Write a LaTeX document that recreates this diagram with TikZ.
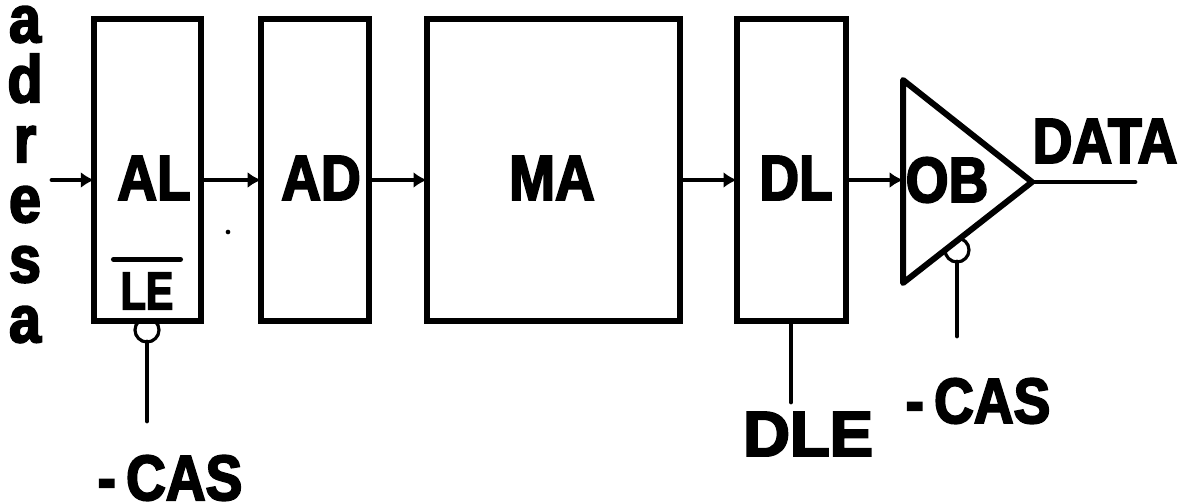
\documentclass[tikz,border=0pt]{standalone}
\usepackage{fontspec}
\usepackage{tikz}
\usetikzlibrary{arrows.meta,calc,positioning}
\newfontfamily\capfont[BoldFeatures={FakeBold=3,FakeStretch=0.86}]{Liberation Sans}
\tikzset{
  box/.style={draw,fill=white,line width=4.5pt,outer sep=0pt,inner sep=0pt,minimum height=226pt},
  lab/.style={inner sep=0pt,font=\capfont\bfseries\fontsize{48}{48}\selectfont},
  bubble/.style={circle,draw,fill=white,line width=2.4pt,inner sep=0pt,outer sep=0pt,minimum size=18pt},
  wire/.style={line width=3.6pt,line cap=round},
  arrow/.style={wire,-{Latex[length=10pt,width=12pt]}},
}
\begin{document}
\begin{tikzpicture}[x=0.75pt,y=-0.75pt]
  \useasboundingbox (0,0) rectangle (1181,503);
  % bubbles first, the blocks cover their inner half
  \node[bubble] (LEb) at (147,330) {};
  \node[bubble] (OBb) at (957,250) {};
  % blocks
  \node[box,minimum width=80pt] (AL) at (147.5,170) {};
  \node[box,minimum width=81pt] (AD) at (315,170) {};
  \node[box,minimum width=190pt] (MA) at (553.5,170) {};
  \node[box,minimum width=82pt] (DL) at (791.5,170) {};
  \coordinate (OBt) at (903,80);
  \coordinate (OBa) at (1032,182);
  \coordinate (OBd) at (903,283);
  \draw[fill=white,line width=4.5pt,line join=round] (OBt)--(OBa)--(OBd)--cycle;
  % texts
  \node[lab] (ALt) at (154,178) {AL};
  \node[lab] (ADt) at (321,178) {AD};
  \node[lab] (MAt) at (552,178) {MA};
  \node[lab] (DLt) at (796,178) {DL};
  \node[lab] (OBl) at (947,180) {OB};
  \node[lab] (DATAt) at (1105,141) {DATA};
  \node[lab,xscale=0.9,font=\capfont\bfseries\fontsize{40}{40}\selectfont] (LEt) at (147,291) {LE};
  \node[lab,xscale=1.18] (DLEt) at (808,434) {DLE};
  \node[lab] (CASa) at (170,478) {-\hspace{-0.08em} CAS};
  \node[lab] (CASb) at (978,401) {-\hspace{-0.08em} CAS};
  \node[lab,align=center,anchor=north,font=\capfont\bfseries\fontsize{50}{45pt}\selectfont] (ADR) at (25,6) {a\\d\\r\\e\\s\\a};
  \node[circle,fill,inner sep=0pt,minimum size=3.5pt] (dot) at (228,232) {};
  % connectors
  \coordinate (in) at (52,180);
  \coordinate (out) at (1135,182);
  \coordinate (LEend) at (147,421);
  \coordinate (OBend) at (957,336);
  \coordinate (DLend) at (791,402);
  \draw[arrow] (in)--(in-|AL.west);
  \draw[arrow] (in-|AL.east)--(in-|AD.west);
  \draw[arrow] (in-|AD.east)--(in-|MA.west);
  \draw[arrow] (in-|MA.east)--(in-|DL.west);
  \draw[arrow] (in-|DL.east)--(in-|OBt);
  \draw[wire] (OBa)--(out);
  \draw[wire] (LEb.south)--(LEend);
  \draw[wire] (OBb.south)--(OBend);
  \draw[wire] (DL.south-|DLend)--(DLend);
  \draw[wire] ($(LEt.north west)+(-7,-13)$)--($(LEt.north east)+(7,-13)$);
\end{tikzpicture}
\end{document}
